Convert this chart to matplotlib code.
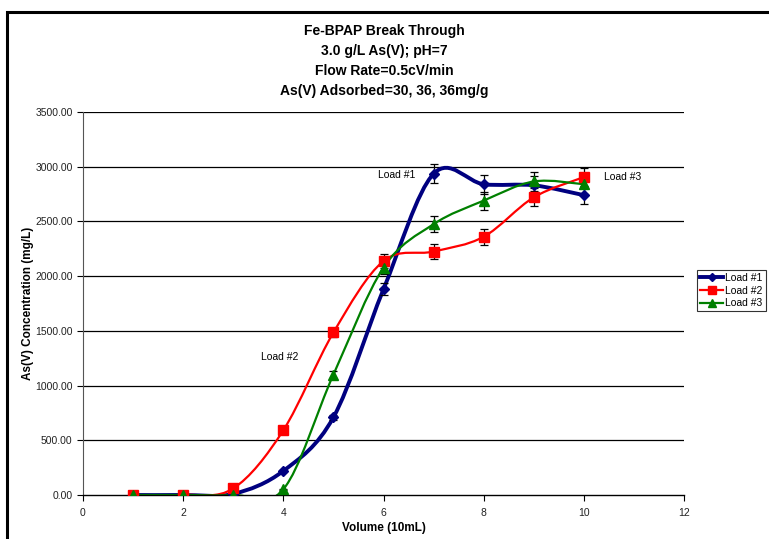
import numpy as np
import matplotlib
matplotlib.use("Agg")
import matplotlib.pyplot as plt
from matplotlib.path import Path
from matplotlib.patches import PathPatch, Rectangle
from matplotlib.lines import Line2D

plt.rcParams['font.family'] = ['Liberation Sans', 'DejaVu Sans']

volume = [1, 2, 3, 4, 5, 6, 7, 8, 9, 10]
load1 = [0, 0, 10, 220, 710, 1880, 2935, 2840, 2830, 2740]
load2 = [0, 0, 60, 592, 1485, 2138, 2225, 2360, 2720, 2905]
load3 = [0, 0, 0, 52, 1100, 2078, 2475, 2690, 2865, 2840]
err1 = [0, 0, 0, 7, 21, 56, 88, 85, 85, 82]
err2 = [0, 0, 2, 18, 44, 64, 67, 71, 82, 87]
err3 = [0, 0, 0, 2, 33, 62, 74, 81, 86, 85]
series_names = ["Load #1", "Load #2", "Load #3"]
colors = ["#000080", "#FF0000", "#008000"]
markers = ["D", "s", "^"]
title_lines = ["Fe-BPAP Break Through", "3.0 g/L As(V); pH=7",
               "Flow Rate=0.5cV/min", "As(V) Adsorbed=30, 36, 36mg/g"]
yticks = [0, 500, 1000, 1500, 2000, 2500, 3000, 3500]
xticks = [0, 2, 4, 6, 8, 10, 12]


def smooth_path(xs, ys):
    xs = np.asarray(xs, float)
    ys = np.asarray(ys, float)
    n = len(xs)
    verts = [(xs[0], ys[0])]
    codes = [Path.MOVETO]
    for i in range(n - 1):
        p0 = (xs[max(i - 1, 0)], ys[max(i - 1, 0)])
        p1 = (xs[i], ys[i])
        p2 = (xs[i + 1], ys[i + 1])
        p3 = (xs[min(i + 2, n - 1)], ys[min(i + 2, n - 1)])
        c1 = (p1[0] + (p2[0] - p0[0]) / 6, p1[1] + (p2[1] - p0[1]) / 6)
        c2 = (p2[0] - (p3[0] - p1[0]) / 6, p2[1] - (p3[1] - p1[1]) / 6)
        verts += [c1, c2, p2]
        codes += [Path.CURVE4] * 3
    return Path(verts, codes)


fig = plt.figure(figsize=(7.69, 5.39), dpi=100)
ax = fig.add_axes([83 / 769, 1 - 495 / 539, (684 - 83) / 769, (495 - 112) / 539])

for yv in yticks[1:]:
    ax.axhline(yv, color="black", lw=0.9, zorder=0)

data = [load1, load2, load3]
errs = [err1, err2, err3]
lws = [2.8, 1.6, 1.6]
msizes = [5, 6.5, 6.5]
handles = []
for d, e, c, m, lw, ms, name in zip(data, errs, colors, markers, lws, msizes, series_names):
    ax.add_patch(PathPatch(smooth_path(volume, d), facecolor="none", edgecolor=c, lw=lw, zorder=2))
    ax.errorbar(volume, d, yerr=e, fmt="none", ecolor="black", elinewidth=0.9, capsize=3, capthick=0.9, zorder=3)
    ax.plot(volume, d, linestyle="none", marker=m, color=c, markersize=ms, zorder=4)
    handles.append(Line2D([], [], color=c, lw=lw, marker=m, markersize=ms - 1, label=name))

ax.set_xlim(0, 12)
ax.set_ylim(0, 3500)
ax.set_xticks(xticks)
ax.set_yticks(yticks)
ax.set_yticklabels([f"{v:.2f}" for v in yticks])
ax.tick_params(axis="both", labelsize=7.5, length=4, direction="out", width=0.8, labelcolor="#222222")
ax.tick_params(axis="x", pad=5)
for s in ["top", "right"]:
    ax.spines[s].set_visible(False)
ax.spines["left"].set_color("#555555")
ax.spines["bottom"].set_linewidth(1.0)

ax.set_xlabel("Volume (10mL)", fontsize=8.5, fontweight="bold", labelpad=3)
ax.set_ylabel("As(V) Concentration (mg/L)", fontsize=8.5, fontweight="bold", labelpad=1)

ax.text(6.27, 2920, "Load #1", fontsize=7.5, ha="center", va="center")
ax.text(3.93, 1260, "Load #2", fontsize=7.5, ha="center", va="center")
ax.text(10.78, 2906, "Load #3", fontsize=7.5, ha="center", va="center")

for i, line in enumerate(title_lines):
    fig.text(384 / 769, 1 - (31 + i * 20) / 539, line, fontsize=10, fontweight="bold",
             ha="center", va="center")

leg = fig.legend(handles=handles, loc="upper left", bbox_to_anchor=(697 / 769, 1 - 270 / 539),
                 fontsize=7.5, frameon=True, fancybox=False, edgecolor="black",
                 borderpad=0.3, labelspacing=0.25, handlelength=2.2, handletextpad=0.2,
                 borderaxespad=0)
leg.get_frame().set_linewidth(0.8)

fig.patches.append(Rectangle((7 / 769, -0.2), 1.2, 1.2 - 12 / 539, transform=fig.transFigure,
                             fill=False, edgecolor="black", lw=2.2, clip_on=False))

fig.savefig("out.png", dpi=100)
